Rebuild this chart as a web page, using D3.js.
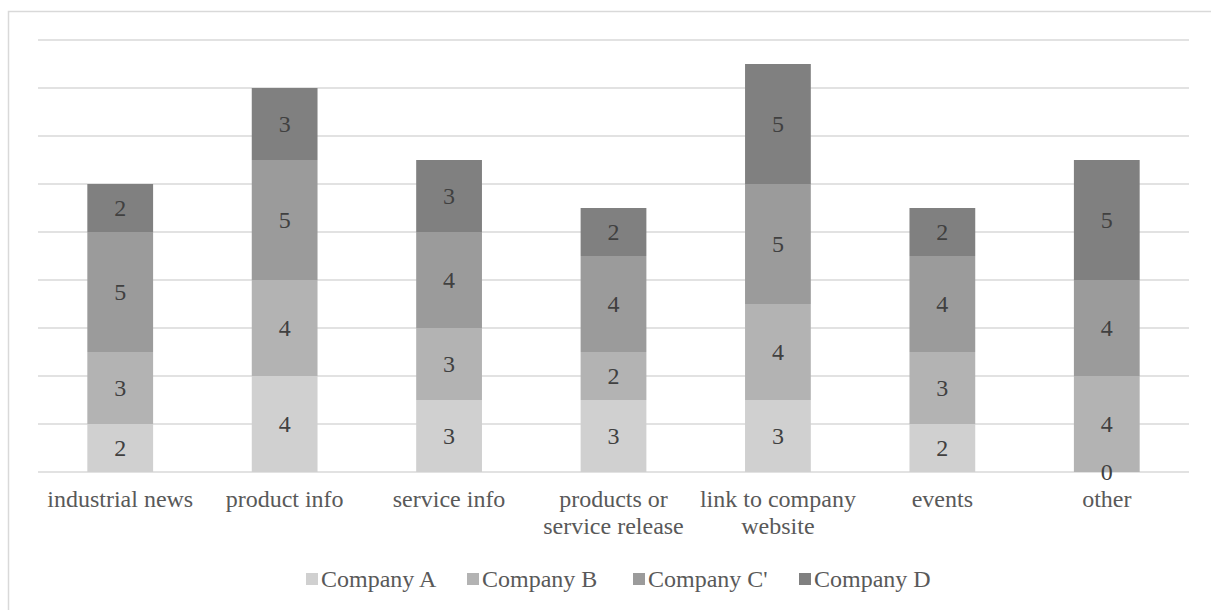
<!DOCTYPE html>
<html><head><meta charset="utf-8">
<script src="https://cdn.jsdelivr.net/npm/d3@7"></script>
<style>body{margin:0;background:#fff}svg{display:block}text{font-family:"Liberation Serif","Times New Roman",serif;fill:#595959}</style>
</head><body><svg id="c" width="1211" height="610"></svg>
<script>
const categories = [["industrial news"],["product info"],["service info"],["products or","service release"],["link to company","website"],["events"],["other"]];
const seriesNames = ["Company A","Company B","Company C'","Company D"];
const companyA = [2,4,3,3,3,2,0];
const companyB = [3,4,3,2,4,3,4];
const companyC = [5,5,4,4,5,4,4];
const companyD = [2,3,3,2,5,2,5];
const colors = ["#d0d0d0","#b3b3b3","#9b9b9b","#808080"];
const yTicks = [0,2,4,6,8,10,12,14,16,18];

(function(){
const svg = d3.select("#c");
svg.append("rect").attr("x",8.5).attr("y",11.5).attr("width",1215).attr("height",620)
  .attr("fill","none").attr("stroke","#d9d9d9").attr("stroke-width",1.5);

const pl=38,pr=1189,pt=40,pb=472;
const x = d3.scaleBand().domain(d3.range(categories.length)).range([pl,pr]).paddingInner(0.6).paddingOuter(0.3);
const y = d3.scaleLinear().domain([0,18]).range([pb,pt]);

svg.append("g").selectAll("line").data(yTicks).join("line")
  .attr("x1",pl).attr("x2",pr).attr("y1",d=>y(d)).attr("y2",d=>y(d))
  .attr("stroke","#d9d9d9").attr("stroke-width",1.5);

const rows = categories.map((c,i)=>({i,A:companyA[i],B:companyB[i],C:companyC[i],D:companyD[i]}));
const stack = d3.stack().keys(["A","B","C","D"])(rows);

const g = svg.append("g");
stack.forEach((layer,k)=>{
  g.selectAll(null).data(layer).join("rect")
    .attr("x",d=>x(d.data.i)).attr("width",x.bandwidth())
    .attr("y",d=>y(d[1])).attr("height",d=>y(d[0])-y(d[1]))
    .attr("fill",colors[k]);
});
stack.forEach((layer,k)=>{
  g.selectAll(null).data(layer).join("text")
    .attr("x",d=>x(d.data.i)+x.bandwidth()/2)
    .attr("y",d=>(y(d[0])+y(d[1]))/2)
    .attr("dy","0.35em").attr("text-anchor","middle").attr("font-size",24)
    .style("fill","#404040")
    .text(d=>d[1]-d[0]);
});

const xa = svg.append("g");
categories.forEach((lines,i)=>{
  const t = xa.append("text").attr("x",x(i)+x.bandwidth()/2).attr("y",507)
    .attr("text-anchor","middle").attr("font-size",24);
  lines.forEach((l,j)=>t.append("tspan").attr("x",x(i)+x.bandwidth()/2).attr("dy",j?27:0).text(l));
});

const legX=[306,467,633,799];
const leg = svg.append("g");
seriesNames.forEach((n,k)=>{
  leg.append("rect").attr("x",legX[k]).attr("y",573).attr("width",12).attr("height",12).attr("fill",colors[k]);
  leg.append("text").attr("x",legX[k]+15).attr("y",587).attr("font-size",24).text(n);
});
})();
</script></body></html>
